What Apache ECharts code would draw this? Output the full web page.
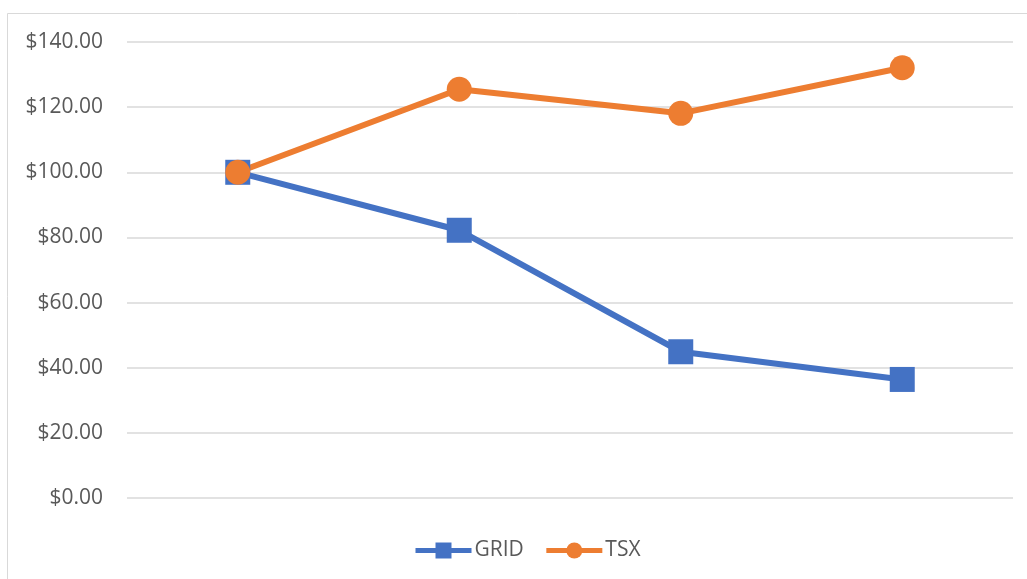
<!DOCTYPE html>
<html>
<head>
<meta charset="utf-8">
<script src="https://cdn.jsdelivr.net/npm/echarts@6/dist/echarts.min.js"></script>
<style>html,body{margin:0;padding:0;background:#fff;}#chart{width:1027px;height:579px;}</style>
</head>
<body>
<div id="chart"></div>
<script>
const categories = ["1", "2", "3", "4"];
const gridValues = [100, 82.2, 44.9, 36.4];
const tsxValues = [100, 125.5, 118.1, 132.1];
const yTicks = { min: 0, max: 140, interval: 20 };

const chart = echarts.init(document.getElementById('chart'), null, { renderer: 'canvas' });
const font = '"Open Sans", sans-serif';
chart.setOption({
  backgroundColor: '#fff',
  animation: false,
  graphic: [{
    type: 'rect', silent: true,
    shape: { x: 7.5, y: 13.5, width: 1100, height: 700 },
    style: { fill: 'none', stroke: '#d9d9d9', lineWidth: 1 }
  }],
  grid: { left: 127, right: 14, top: 42, bottom: 81 },
  legend: {
    top: 540, left: 413, padding: 0,
    itemWidth: 56, itemHeight: 20, itemGap: 20,
    lineStyle: { width: 5 },
    textStyle: { color: '#595959', fontSize: 21, fontFamily: font, padding: [0, 0, 0, -2] },
    data: ['GRID', 'TSX']
  },
  xAxis: {
    type: 'category', data: categories, boundaryGap: true,
    axisLine: { show: false }, axisTick: { show: false }, axisLabel: { show: false },
    splitLine: { show: false }
  },
  yAxis: {
    type: 'value', min: yTicks.min, max: yTicks.max, interval: yTicks.interval,
    axisLine: { show: false }, axisTick: { show: false },
    axisLabel: {
      color: '#595959', fontSize: 21, fontFamily: font, margin: 24,
      formatter: v => '$' + v.toFixed(2)
    },
    splitLine: { lineStyle: { color: '#d9d9d9', width: 1.5 } }
  },
  series: [
    {
      name: 'GRID', type: 'line', data: gridValues,
      symbol: 'rect', symbolSize: 25,
      lineStyle: { color: '#4472C4', width: 6 },
      itemStyle: { color: '#4472C4' }
    },
    {
      name: 'TSX', type: 'line', data: tsxValues,
      symbol: 'circle', symbolSize: 25,
      lineStyle: { color: '#ED7D31', width: 6 },
      itemStyle: { color: '#ED7D31' }
    }
  ]
});
</script>
</body>
</html>
